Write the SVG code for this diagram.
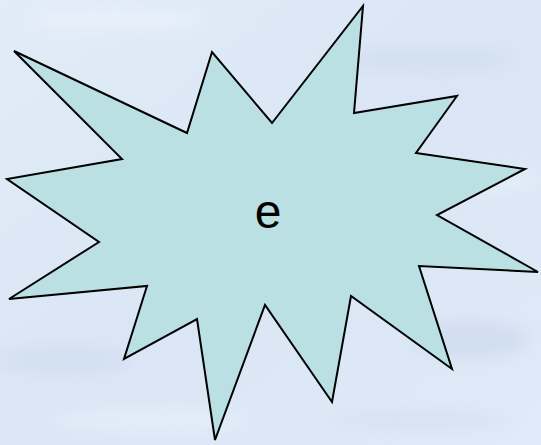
<svg xmlns="http://www.w3.org/2000/svg" width="541" height="445" viewBox="0 0 541 445">
  <style>
    .burst { fill: #bae0e3; stroke: #000000; stroke-width: 2; stroke-linejoin: miter; }
    .label { font-family: "Liberation Sans", Arial, sans-serif; font-size: 48px; fill: #000000; }
  </style>
  <defs>
    <linearGradient id="bg" x1="0" y1="0" x2="1" y2="1">
      <stop offset="0" stop-color="#e2ecf8"/>
      <stop offset="0.5" stop-color="#dae6f5"/>
      <stop offset="1" stop-color="#e0eaf8"/>
    </linearGradient>
    <filter id="blur" x="-50%" y="-50%" width="200%" height="200%">
      <feGaussianBlur stdDeviation="8"/>
    </filter>
  </defs>
  <g id="background">
    <rect x="0" y="0" width="541" height="445" fill="url(#bg)"/>
    <g filter="url(#blur)" opacity="0.6">
      <ellipse cx="120" cy="20" rx="90" ry="10" fill="#eef5fd"/>
      <ellipse cx="420" cy="60" rx="100" ry="12" fill="#cfdcee"/>
      <ellipse cx="60" cy="360" rx="70" ry="14" fill="#cfdcee"/>
      <ellipse cx="470" cy="340" rx="60" ry="20" fill="#cad8ec"/>
      <ellipse cx="480" cy="180" rx="60" ry="10" fill="#eaf3fd"/>
      <ellipse cx="150" cy="420" rx="100" ry="12" fill="#e8f1fc"/>
      <ellipse cx="420" cy="420" rx="90" ry="10" fill="#d2def0"/>
    </g>
  </g>
  <g id="node-burst">
    <polygon class="burst" points="14,51 187,133 212,52 272,123 363,6 354,113 457,96 416,153 525,169 437,215 538,272 419,266 452,369 351,296 332,402 265,305 215,440 197,319 124,359 147,286 9,299 99,242 7,179 122,159"/>
    <text class="label" x="268" y="228" text-anchor="middle">e</text>
  </g>
</svg>
